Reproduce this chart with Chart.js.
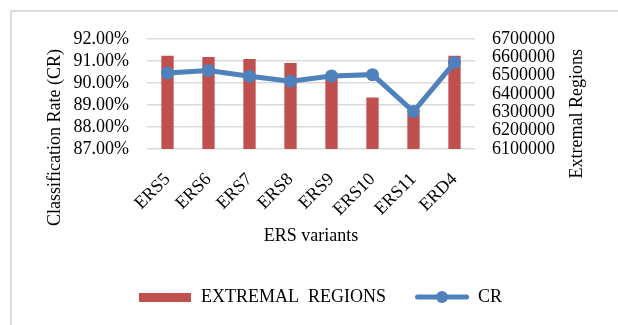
<!DOCTYPE html>
<html><head><meta charset="utf-8">
<script src="https://cdn.jsdelivr.net/npm/chart.js@4/dist/chart.umd.min.js"></script>
<style>
html,body{margin:0;padding:0;background:#fff;}
#wrap{position:relative;width:618px;height:325px;overflow:hidden;}
#frame{position:absolute;left:10px;top:10px;width:700px;height:400px;border:2px solid #dcdcdc;box-sizing:border-box;}
canvas{position:absolute;left:0;top:0;}
</style></head><body>
<div id="wrap"><div id="frame"></div><canvas id="c" width="618" height="325"></canvas></div>
<script>
const categories = ['ERS5','ERS6','ERS7','ERS8','ERS9','ERS10','ERS11','ERD4'];
const extremalRegions = [6608000, 6602000, 6591000, 6569000, 6490000, 6381000, 6290000, 6608000];
const crValues = [90.45, 90.57, 90.31, 90.08, 90.32, 90.38, 88.70, 90.93];
const crAxis = {min: 87, max: 92, step: 1};
const erAxis = {min: 6100000, max: 6700000, step: 100000};
const barLabel = 'EXTREMAL  REGIONS';
const lineLabel = 'CR';
const xTitle = 'ERS variants';
const leftTitle = 'Classification Rate (CR)';
const rightTitle = 'Extremal Regions';

const RED = '#C0504D', BLUE = '#4F81BD', TXT = '#000';
const FONT = {family: '"Liberation Serif", "Times New Roman", serif', size: 18};

function makeBoxIcon(){
  const c = document.createElement('canvas'); c.width = 52; c.height = 9;
  const x = c.getContext('2d'); x.fillStyle = RED; x.fillRect(0,0,52,9); return c;
}
function makeLineIcon(){
  const c = document.createElement('canvas'); c.width = 54; c.height = 14;
  const x = c.getContext('2d');
  x.strokeStyle = BLUE; x.lineWidth = 5; x.lineCap = 'round';
  x.beginPath(); x.moveTo(2.5,7); x.lineTo(51.5,7); x.stroke();
  x.fillStyle = BLUE; x.beginPath(); x.arc(27,7,6,0,Math.PI*2); x.fill();
  return c;
}
const boxIcon = makeBoxIcon(), lineIcon = makeLineIcon();

const axisTitles = {
  id: 'axisTitles',
  afterDraw(chart){
    const {ctx, chartArea: a} = chart;
    ctx.save();
    ctx.font = FONT.size + 'px ' + FONT.family;
    ctx.fillStyle = TXT; ctx.textBaseline = 'middle'; ctx.textAlign = 'right';
    ctx.save(); ctx.translate(a.left - 92, a.top + 10); ctx.rotate(-Math.PI/2); ctx.fillText(leftTitle, 0, 0); ctx.restore();
    ctx.save(); ctx.translate(a.right + 102, a.top + 10); ctx.rotate(-Math.PI/2); ctx.fillText(rightTitle, 0, 0); ctx.restore();
    ctx.restore();
  }
};

new Chart(document.getElementById('c'), {
  data: {
    labels: categories,
    datasets: [
      {type: 'bar', label: barLabel, data: extremalRegions, yAxisID: 'y1', backgroundColor: RED,
       barPercentage: 0.3, categoryPercentage: 1, order: 1},
      {type: 'line', label: lineLabel, data: crValues, yAxisID: 'y', borderColor: BLUE, backgroundColor: BLUE,
       borderWidth: 5, pointRadius: 6.5, pointBackgroundColor: BLUE, pointBorderWidth: 0, tension: 0, order: 0}
    ]
  },
  options: {
    responsive: false, animation: false, devicePixelRatio: 1,
    layout: {padding: {left: 22, top: 39, right: 0, bottom: 9}},
    plugins: {
      tooltip: {enabled: false},
      legend: {
        position: 'bottom',
        labels: {
          usePointStyle: true, pointStyleWidth: 54, padding: 29, color: TXT, font: FONT,
          generateLabels(chart){
            return [
              {text: barLabel, pointStyle: boxIcon, datasetIndex: 0, hidden: false, fontColor: TXT, lineWidth: 0},
              {text: lineLabel, pointStyle: lineIcon, datasetIndex: 1, hidden: false, fontColor: TXT, lineWidth: 0}
            ];
          }
        }
      }
    },
    scales: {
      x: {
        grid: {display: false}, border: {display: false},
        ticks: {font: FONT, color: TXT, minRotation: 45, maxRotation: 45, autoSkip: false, padding: 12},
        title: {display: true, text: xTitle, font: FONT, color: TXT, padding: {top: 0, bottom: 12}},
        afterFit(s){ s.height = 110; }
      },
      y: {
        position: 'left', min: crAxis.min, max: crAxis.max,
        ticks: {stepSize: crAxis.step, autoSkip: false, font: FONT, color: TXT, padding: 18, callback: v => v.toFixed(2) + '%'},
        grid: {color: '#d9d9d9', lineWidth: 1.5, drawTicks: false}, border: {display: false},
        afterFit(s){ s.width = 125; }
      },
      y1: {
        position: 'right', min: erAxis.min, max: erAxis.max,
        ticks: {stepSize: erAxis.step, autoSkip: false, font: FONT, color: TXT, padding: 17, callback: v => String(v)},
        grid: {display: false, drawTicks: false}, border: {display: false},
        afterFit(s){ s.width = 143; }
      }
    }
  },
  plugins: [axisTitles]
});
</script>
</body></html>
